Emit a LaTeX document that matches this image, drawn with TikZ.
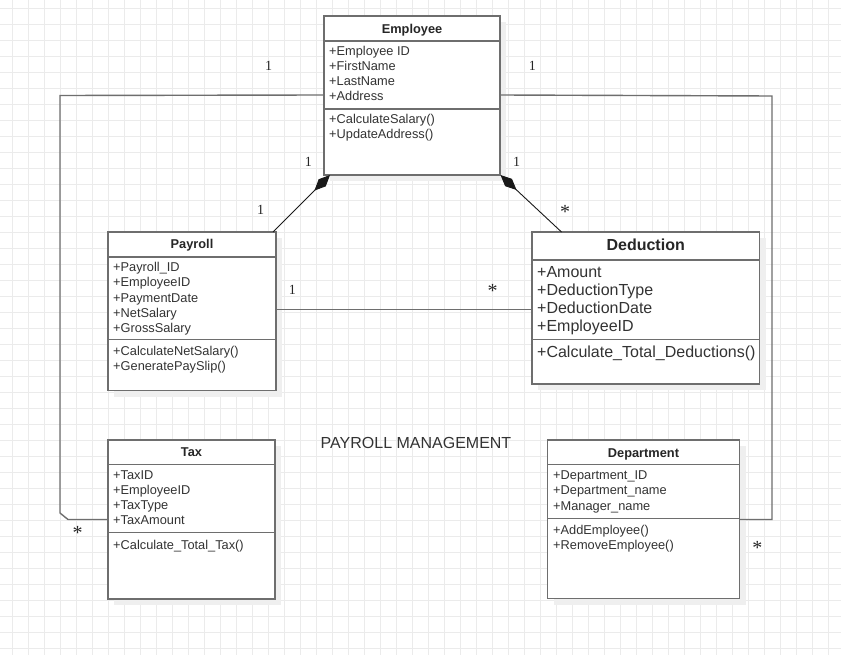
\documentclass[tikz,border=0pt]{standalone}
\usepackage{fontspec}
\setmainfont{Liberation Sans}
\newfontfamily\labfont{Liberation Serif}
\usetikzlibrary{arrows.meta,calc}
\definecolor{gridc}{HTML}{EBEBEB}
\definecolor{boxc}{HTML}{6E6E6E}
\definecolor{txtc}{HTML}{333333}
\definecolor{shadc}{HTML}{EFEFEF}
\definecolor{linec}{HTML}{6E6E6E}
\newcommand{\smallf}{\fontsize{12.8}{15}\selectfont}
\newcommand{\bigf}{\fontsize{16}{18}\selectfont}
\newcommand{\umlclass}[7]{%
  \fill[shadc] (#2+6,#3+6) rectangle ++(#4,#5);
  \node[classbox, minimum width=#4pt, minimum height=#5pt] (#1) at (#2,#3) {};
  \draw[boxline] ($(#1.north west)+(0,#6)$) -- ($(#1.north east)+(0,#6)$);
  \draw[boxline] ($(#1.north west)+(0,#7)$) -- ($(#1.north east)+(0,#7)$);
}
\newcommand{\members}[6]{%
  \foreach \mtext [count=\mi] in {#6} {
    \node[member, font=#5] (#1\mi) at (#2,{#3+#4*(\mi-1)}) {\mtext};
  }
}
\tikzset{
  gridline/.style={draw=gridc, line width=0.8pt},
  classbox/.style={draw=boxc, line width=1.5pt, fill=white, anchor=north west, inner sep=0pt, outer sep=0pt},
  boxline/.style={draw=boxc, line width=1.5pt},
  member/.style={anchor=base west, inner sep=0pt, text=txtc},
  titletext/.style={anchor=base, inner sep=0pt, text=black!85},
  assoc/.style={draw=linec, line width=1.4pt},
  comp/.style={draw=black!90, line width=0.9pt, -{Diamond[length=22pt,width=10pt]}},
  mult/.style={font=\labfont\fontsize{14}{14}\selectfont, text=black!85, inner sep=0pt, anchor=center},
  multstar/.style={font=\labfont\fontsize{20}{20}\selectfont, text=black!85, inner sep=0pt, anchor=center},
}
\begin{document}
\begin{tikzpicture}[x=1pt,y=-1pt]
\useasboundingbox (0,0) rectangle (841,655);
\fill[white] (0,0) rectangle (841,655);
\foreach \gx in {12,28,...,840} \draw[gridline] (\gx,0) -- (\gx,655);
\foreach \gy in {8,24,...,654} \draw[gridline] (0,\gy) -- (841,\gy);

% classes
\umlclass{employee}{324}{16}{176}{159}{25}{93}
\node[titletext, font=\smallf\bfseries] (employee-t) at (412,33.5) {Employee};
\members{ea}{329}{56}{15}{\smallf}{+Employee ID,+FirstName,+LastName,+Address}
\members{em}{329}{123.5}{15.5}{\smallf}{+CalculateSalary(),+UpdateAddress()}

\umlclass{payroll}{108}{232}{168}{158.5}{25}{107.5}
\node[titletext, font=\smallf\bfseries] (payroll-t) at (192,248.5) {Payroll};
\members{pa}{113}{272}{15}{\smallf}{+Payroll\_ID,+EmployeeID,+PaymentDate,+NetSalary,+GrossSalary}
\members{pm}{113}{355.5}{15}{\smallf}{+CalculateNetSalary(),+GeneratePaySlip()}

\umlclass{deduction}{532}{232}{227.5}{152}{28}{107.5}
\node[titletext, font=\bigf\bfseries] (deduction-t) at (645.7,250.5) {Deduction};
\members{da}{537}{277}{18}{\bigf}{+Amount,+DeductionType,+DeductionDate,+EmployeeID}
\members{dm}{537}{357}{18}{\bigf}{+Calculate\_Total\_Deductions()}

\umlclass{tax}{108}{440}{167}{159}{24.3}{92.7}
\node[titletext, font=\smallf\bfseries] (tax-t) at (191.5,456.5) {Tax};
\members{ta}{113}{479}{15}{\smallf}{+TaxID,+EmployeeID,+TaxType,+TaxAmount}
\members{tm}{113}{549.5}{15}{\smallf}{+Calculate\_Total\_Tax()}

\umlclass{department}{547.5}{440}{192}{158.5}{24.3}{78.3}
\node[titletext, font=\smallf\bfseries] (department-t) at (643.5,457) {Department};
\members{dpa}{553}{479.5}{15.25}{\smallf}{+Department\_ID,+Department\_name,+Manager\_name}
\members{dpm}{553}{534}{15.5}{\smallf}{+AddEmployee(),+RemoveEmployee()}

% associations employee - tax / department
\draw[assoc] ($(employee.north west)+(0,79)$) -- (60,95.5) -- (60,513) -- (68,519.5) -- ($(tax.north west)+(0,79.5)$);
\draw[assoc] ($(employee.north east)+(0,79)$) -- (772,96) -- (772,519.5) -- ($(department.north east)+(0,79.5)$);

% association payroll - deduction
\draw[assoc] (payroll.east |- 0,309.5) -- (deduction.west |- 0,309.5);

% compositions
\draw[comp] ($(payroll.north east)+(-3,0)$) -- ($(employee.south west)+(6,0)$);
\draw[comp] ($(deduction.north west)+(29.5,0)$) -- ($(employee.south east)+(0.5,0)$);

% title
\node[font=\fontsize{16}{18}\selectfont, text=txtc, inner sep=0pt] (caption) at (416,442.7) {PAYROLL MANAGEMENT};

% multiplicities
\node[mult] (m1) at (268.7,66) {1};
\node[mult] (m2) at (532.3,66) {1};
\node[mult] (m3) at (308.3,162.3) {1};
\node[mult] (m4) at (260.7,210) {1};
\node[mult] (m5) at (516.7,162.3) {1};
\node[multstar] (m6) at (565,211.5) {*};
\node[mult] (m7) at (292.3,290) {1};
\node[multstar] (m8) at (492.7,291) {*};
\node[multstar] (m9) at (77.7,533) {*};
\node[multstar] (m10) at (757.3,547.5) {*};
\end{tikzpicture}
\end{document}
